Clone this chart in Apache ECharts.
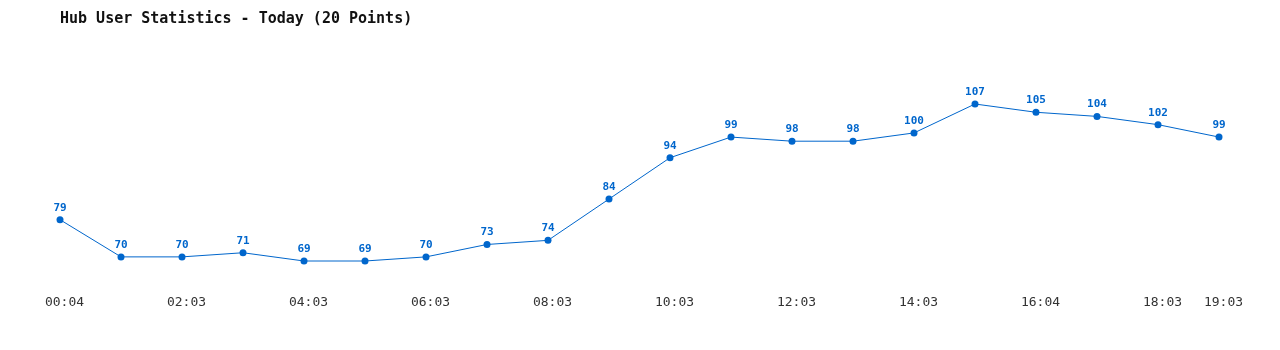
<!DOCTYPE html>
<html>
<head>
<meta charset="utf-8">
<script src="https://cdn.jsdelivr.net/npm/echarts@6/dist/echarts.min.js"></script>
<style>html,body{margin:0;padding:0;background:#fff}#c{width:1280px;height:350px}</style>
</head>
<body>
<div id="c"></div>
<script>
const titleText = "Hub User Statistics - Today (20 Points)";
const categories = ["00:04","01:03","02:03","03:03","04:03","05:03","06:03","07:03","08:03","09:03","10:03","11:03","12:03","13:03","14:03","15:03","16:04","17:03","18:03","19:03"];
const users = [79,70,70,71,69,69,70,73,74,84,94,99,98,98,100,107,105,104,102,99];
const shownLabels = ["00:04","02:03","04:03","06:03","08:03","10:03","12:03","14:03","16:04","18:03","19:03"];

const chart = echarts.init(document.getElementById('c'));
chart.setOption({
  animation: false,
  backgroundColor: '#fff',
  title: {
    text: titleText, left: 55, top: 7,
    textStyle: {fontFamily: 'DejaVu Sans Mono', fontSize: 15, fontWeight: 'bold', color: '#111'}
  },
  grid: {left: 60, right: 61, top: 50.3, bottom: 64.2},
  xAxis: {
    type: 'category', data: categories, boundaryGap: false,
    axisLine: {show: false}, axisTick: {show: false}, splitLine: {show: false},
    axisLabel: {
      interval: function(i, v){ return shownLabels.indexOf(v) >= 0; },
      fontFamily: 'DejaVu Sans Mono', fontSize: 13, color: '#333', margin: 10,
      padding: [0,0,0,9]
    }
  },
  yAxis: {
    type: 'value', min: 63, max: 120,
    show: false, splitLine: {show: false}
  },
  series: [{
    type: 'line', data: users,
    symbol: 'circle', symbolSize: 7,
    lineStyle: {color: '#0066cc', width: 1},
    itemStyle: {color: '#0066cc'},
    label: {show: true, position: 'top', distance: 3, color: '#0066cc',
      fontFamily: 'DejaVu Sans Mono', fontSize: 11, fontWeight: 'bold'}
  }]
});
</script>
</body>
</html>
